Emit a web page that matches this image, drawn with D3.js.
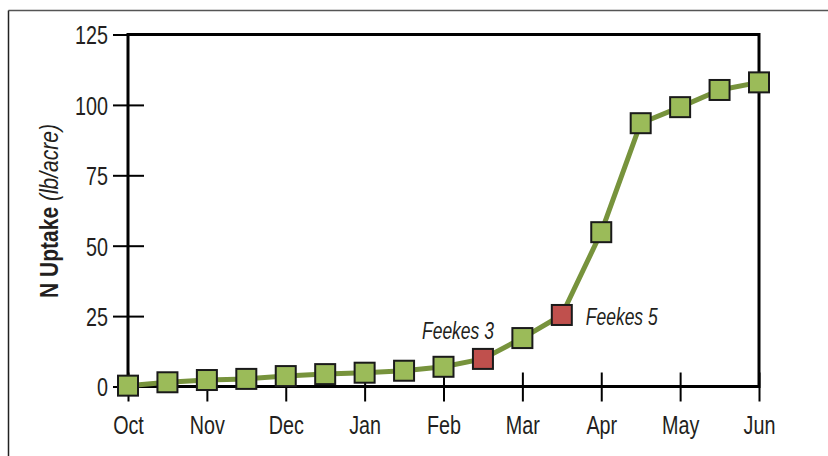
<!DOCTYPE html>
<html><head><meta charset="utf-8">
<script src="https://cdn.jsdelivr.net/npm/d3@7"></script>
<style>
html,body{margin:0;padding:0;background:#fff;}
svg{display:block;}
text{font-family:"Liberation Sans",Arial,sans-serif;fill:#231f20;}
</style></head>
<body>
<svg id="chart" width="828" height="456"></svg>
<script>
// Data
const monthLabels = ["Oct","Nov","Dec","Jan","Feb","Mar","Apr","May","Jun"];
const pointMonths = [0,0.5,1,1.5,2,2.5,3,3.5,4,4.5,5,5.5,6,6.5,7,7.5,8];
const uptake = [0.3,1.5,2.3,2.7,3.7,4.4,4.9,5.6,7.0,9.8,17.2,25.4,54.8,93.5,99.2,105.3,108];
const stageIndex = [9,11];
const stageLabels = ["Feekes 3","Feekes 5"];
const yTicks = [0,25,50,75,100,125];

const svg = d3.select("#chart");
const W = 828, H = 456;
const m = {left:128, right:828-759, top:34.5, bottom:456-386.5};
const SX = 0.76; // horizontal condensing to mimic a condensed face

// outer frame (top and left)
svg.append("line").attr("x1",8.5).attr("x2",W).attr("y1",10.5).attr("y2",10.5).attr("stroke","#555").attr("stroke-width",1.5);
svg.append("line").attr("x1",8.5).attr("x2",8.5).attr("y1",10.5).attr("y2",H).attr("stroke","#222").attr("stroke-width",1.5);

const x = d3.scaleLinear().domain([0,8]).range([m.left, W-m.right]);
const y = d3.scaleLinear().domain([0,125]).range([H-m.bottom, m.top]);

const g = svg.append("g");

// plot frame
g.append("rect").attr("x",x(0)).attr("y",y(125)).attr("width",x(8)-x(0)).attr("height",y(0)-y(125))
 .attr("fill","none").attr("stroke","#000").attr("stroke-width",3);

// y axis
const yAxis = d3.axisLeft(y).tickValues(yTicks).tickSize(15).tickSizeOuter(0);
const ya = g.append("g").attr("transform",`translate(${x(0)},0)`).call(yAxis);
ya.select(".domain").remove();
ya.selectAll(".tick line").attr("x2",16).attr("x1",-15).attr("stroke","#000").attr("stroke-width",2);
ya.selectAll(".tick text").attr("font-size",26).attr("x",0).attr("dy","0.36em")
  .attr("transform",`translate(-20,0) scale(${SX},1)`)
  .attr("font-family","'Liberation Sans',Arial,sans-serif").attr("fill","#231f20");

// x axis
const xAxis = d3.axisBottom(x).tickValues(d3.range(monthLabels.length)).tickFormat(i=>monthLabels[i]).tickSize(15).tickSizeOuter(0);
const xa = g.append("g").attr("transform",`translate(0,${y(0)})`).call(xAxis);
xa.select(".domain").remove();
xa.selectAll(".tick line").attr("y1",-14).attr("y2",15).attr("stroke","#000").attr("stroke-width",2);
xa.selectAll(".tick text").attr("font-size",26).attr("y",0).attr("dy",0)
  .attr("transform",`translate(0,47) scale(${SX},1)`)
  .attr("font-family","'Liberation Sans',Arial,sans-serif").attr("fill","#231f20");

// y title
const yt = svg.append("text").attr("transform",`translate(58,211) rotate(-90) scale(0.84,1)`).attr("text-anchor","middle").attr("font-size",25);
yt.append("tspan").attr("font-weight","bold").text("N Uptake ");
yt.append("tspan").attr("font-style","italic").text("(lb/acre)");

// line
const data = pointMonths.map((mo,i)=>({mo, v:uptake[i], stage: stageIndex.indexOf(i)}));
const line = d3.line().x(d=>x(d.mo)).y(d=>y(d.v)).curve(d3.curveLinear);
g.append("path").datum(data).attr("d",line).attr("fill","none").attr("stroke","#77933c").attr("stroke-width",5).attr("stroke-linejoin","round");

// markers
const s = 20;
g.selectAll("rect.pt").data(data).enter().append("rect").attr("class","pt")
 .attr("x",d=>x(d.mo)-s/2).attr("y",d=>y(d.v)-s/2).attr("width",s).attr("height",s)
 .attr("fill",d=>d.stage>=0?"#c0504d":"#9bbb59").attr("stroke","#1a1a1a").attr("stroke-width",2);

// stage labels
const i3 = stageIndex[0], i5 = stageIndex[1];
g.append("text").attr("transform",`translate(${x(pointMonths[i3])-25},${y(uptake[i3])-20}) scale(${SX},1)`).attr("text-anchor","middle")
 .attr("font-style","italic").attr("font-size",23).text(stageLabels[0]);
g.append("text").attr("transform",`translate(${x(pointMonths[i5])+24},${y(uptake[i5])+10}) scale(${SX},1)`).attr("text-anchor","start")
 .attr("font-style","italic").attr("font-size",23).text(stageLabels[1]);
</script>
</body></html>
